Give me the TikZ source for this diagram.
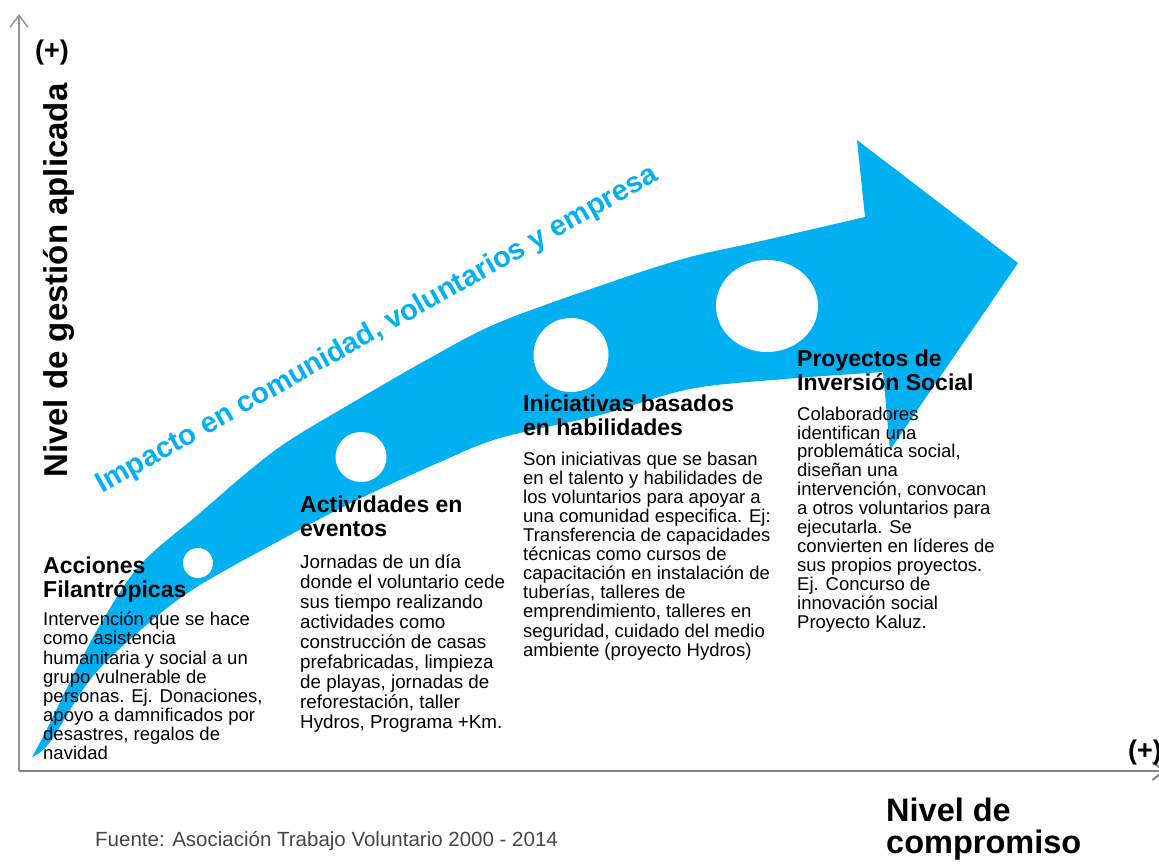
\documentclass[tikz,border=0pt]{standalone}
\usepackage{fontspec}
\setmainfont{Liberation Sans}
\usetikzlibrary{arrows.meta}
\definecolor{arrowblue}{RGB}{0,176,240}
\definecolor{axisgray}{RGB}{150,150,150}
\definecolor{xaxisgray}{RGB}{130,130,130}
\definecolor{srcgray}{RGB}{70,70,70}
\begin{document}
\begin{tikzpicture}[x=1pt,y=-1pt,
  headtxt/.style={anchor=north west,inner sep=0pt,align=left,font=\fontsize{23}{23.5}\selectfont\bfseries},
  bodytxt/.style={anchor=north west,inner sep=0pt,align=left,font=\fontsize{18.5}{19.1}\selectfont},
  hole/.style={fill=white,draw=none},
  axisline/.style={draw=axisgray,line width=1.5pt,-{Straight Barb[length=12pt,width=18pt]}},
  plus/.style={inner sep=0pt,font=\fontsize{27}{27}\selectfont\bfseries}]
\useasboundingbox (0,0) rectangle (1159,865);
% blue arrow
\fill[arrowblue] (32,757)
 -- plot[smooth,tension=0.55] coordinates {(32,757) (45,733) (67,688) (100,625) (140,565) (200,513) (250,470) (290,440) (357,400) (430,358) (500,322) (617,280) (690,257) (757,242) (865,217)}
 -- (857,140) -- (1018,263) -- (890,450) -- (883,372)
 -- plot[smooth,tension=0.55] coordinates {(883,372) (785,379) (690,389) (600,415) (500,438) (440,462) (357,500) (290,535) (200,585) (150,622) (93,676) (50,742) (32,757)}
 -- cycle;
% holes
\coordinate (c1) at (198,563);
\coordinate (c2) at (361,457);
\coordinate (c3) at (571,355);
\coordinate (c4) at (767,306);
\fill[hole] (c1) ellipse [x radius=15pt, y radius=15pt];
\fill[hole] (c2) ellipse [x radius=25.5pt, y radius=25pt];
\fill[hole] (c3) ellipse [x radius=37.5pt, y radius=37pt];
\fill[hole] (c4) ellipse [x radius=51pt, y radius=46pt];
% axes
\coordinate (O) at (19,771);
\coordinate (ytop) at (19,14);
\coordinate (xend) at (1166,771);
\draw[axisline] (O) -- (ytop);
\draw[axisline,draw=xaxisgray,line width=2pt] (O) -- (xend);
\node[plus] (plusy) at (52,53) {(+)};
\node[plus] (plusx) at (1145,753) {(+)};
\node[rotate=90,anchor=base west,inner sep=0pt,font=\fontsize{33}{33}\selectfont\bfseries] (ylab) at (67,478) {Nivel de gestión aplicada};
\node[anchor=north west,inner sep=0pt,align=left,font=\fontsize{32.5}{32}\selectfont\bfseries] (xlab) at (886,798) {Nivel de\\compromiso};
% impact text
\node[anchor=base west,rotate=29.4,inner sep=0pt,text=arrowblue,font=\fontsize{29}{29}\selectfont\bfseries] (impact) at (102,494) {Impacto en comunidad, voluntarios y empresa};
% columns
\node[headtxt] (h1) at (43,557) {Acciones\\Filantrópicas};
\node[bodytxt] (b1) at (43,612) {Intervención que se hace\\como asistencia\\humanitaria y social a un\\grupo vulnerable de\\personas. Ej. Donaciones,\\apoyo a damnificados por\\desastres, regalos de\\navidad};
\node[headtxt] (h2) at (300,496) {Actividades en\\eventos};
\node[bodytxt,font=\fontsize{18.8}{20}\selectfont] (b2) at (300,554) {Jornadas de un día\\donde el voluntario cede\\sus tiempo realizando\\actividades como\\construcción de casas\\prefabricadas, limpieza\\de playas, jornadas de\\reforestación, taller\\Hydros, Programa +Km.};
\node[headtxt] (h3) at (523,395) {Iniciativas basados\\en habilidades};
\node[bodytxt] (b3) at (523,451.5) {Son iniciativas que se basan\\en el talento y habilidades de\\los voluntarios para apoyar a\\una comunidad especifica. Ej:\\Transferencia de capacidades\\técnicas como cursos de\\capacitación en instalación de\\tuberías, talleres de\\emprendimiento, talleres en\\seguridad, cuidado del medio\\ambiente (proyecto Hydros)};
\node[headtxt] (h4) at (797,350) {Proyectos de\\Inversión Social};
\node[bodytxt,font=\fontsize{18.5}{18.9}\selectfont] (b4) at (797,406.5) {Colaboradores\\identifican una\\problemática social,\\diseñan una\\intervención, convocan\\a otros voluntarios para\\ejecutarla. Se\\convierten en líderes de\\sus propios proyectos.\\Ej. Concurso de\\innovación social\\Proyecto Kaluz.};
% source
\node[anchor=base west,inner sep=0pt,text=srcgray,font=\fontsize{20.5}{20.5}\selectfont] (src) at (95,846) {Fuente: Asociación Trabajo Voluntario 2000 - 2014};
\end{tikzpicture}
\end{document}
